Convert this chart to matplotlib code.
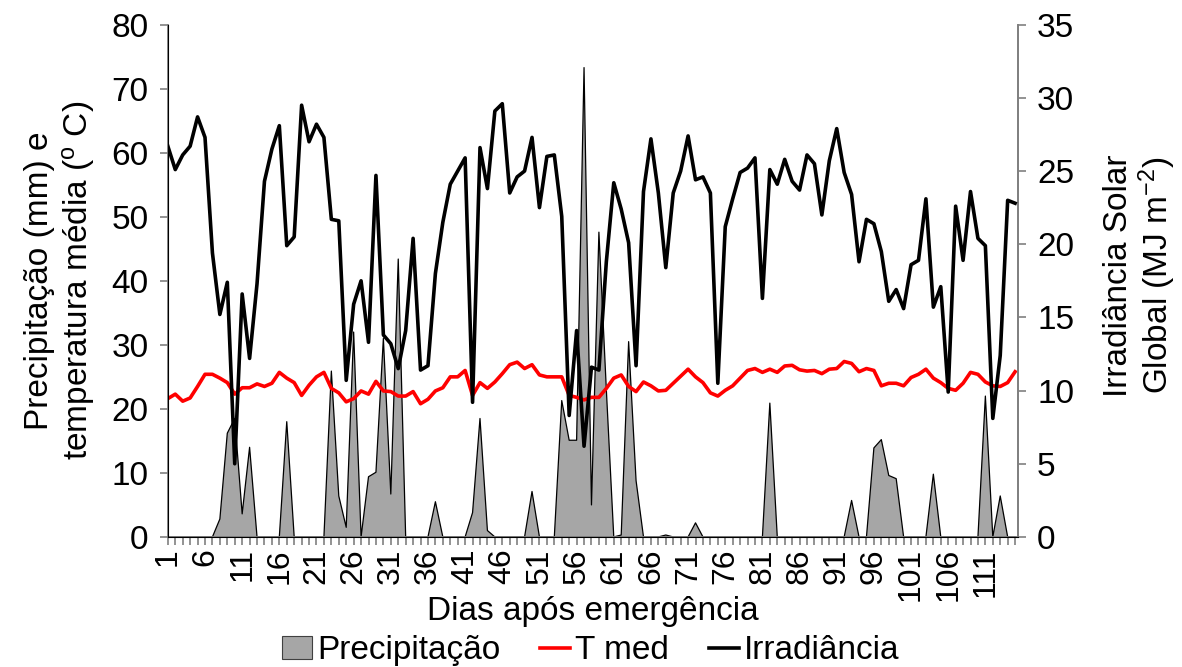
import matplotlib
matplotlib.use("Agg")
import matplotlib.pyplot as plt
import numpy as np
from matplotlib.patches import Patch
from matplotlib.lines import Line2D

plt.rcParams['font.family'] = ['Liberation Sans', 'DejaVu Sans']
plt.rcParams['mathtext.fontset'] = 'custom'
plt.rcParams['mathtext.rm'] = 'Liberation Sans'
plt.rcParams['mathtext.default'] = 'regular'

# Dias após emergência
dias = np.arange(1, 116)

# Precipitação (mm)
precipitacao = [0, 0, 0, 0, 0, 0, 0, 2.8, 16.2, 18.5,
                3.6, 14.0, 0, 0, 0, 0, 18.0, 0, 0, 0,
                0, 0, 25.9, 6.4, 1.5, 32.0, 0, 9.4, 10.1, 31.0,
                6.7, 43.4, 0, 0, 0, 0, 5.5, 0, 0, 0,
                0, 3.8, 18.5, 1.0, 0, 0, 0, 0, 0, 7.1,
                0, 0, 0, 21.3, 15.1, 15.1, 73.3, 5.0, 47.6, 23.0,
                0, 0.3, 30.5, 8.8, 0, 0, 0, 0.3, 0, 0,
                0, 2.2, 0, 0, 0, 0, 0, 0, 0, 0,
                0, 20.9, 0, 0, 0, 0, 0, 0, 0, 0,
                0, 0, 5.7, 0, 0, 13.9, 15.2, 9.6, 9.1, 0,
                0, 0, 0, 9.8, 0, 0, 0, 0, 0, 0,
                22.0, 0, 6.4, 0, 0]

# Temperatura média (ºC)
t_med = [21.6, 22.3, 21.2, 21.7, 23.5, 25.4, 25.4, 24.8, 24.1, 22.3,
         23.3, 23.3, 23.9, 23.5, 24.0, 25.7, 24.8, 24.1, 22.1, 23.7,
         25.0, 25.7, 23.2, 22.5, 21.1, 21.6, 22.8, 22.3, 24.3, 22.8,
         22.7, 22.0, 22.0, 22.7, 20.8, 21.5, 22.8, 23.3, 25.0, 25.0,
         26.0, 22.1, 24.1, 23.2, 24.2, 25.5, 26.9, 27.3, 26.3, 26.9,
         25.3, 25.0, 25.0, 25.0, 22.1, 21.8, 21.4, 21.8, 21.8, 23.2,
         24.8, 25.3, 23.5, 22.7, 24.2, 23.6, 22.8, 22.9, 24.0, 25.1,
         26.2, 25.0, 24.1, 22.5, 22.0, 22.9, 23.6, 24.8, 26.0, 26.3,
         25.7, 26.2, 25.7, 26.7, 26.8, 26.1, 25.9, 26.0, 25.5, 26.2,
         26.3, 27.4, 27.1, 25.8, 26.3, 26.0, 23.6, 24.0, 24.0, 23.6,
         24.9, 25.4, 26.2, 24.8, 24.1, 23.2, 22.9, 24.0, 25.7, 25.4,
         24.2, 23.6, 23.5, 24.1, 25.8]

# Irradiância solar global (MJ m-2)
irradiancia = [26.7, 25.1, 26.1, 26.7, 28.7, 27.3, 19.4, 15.2, 17.4, 5.0,
               16.6, 12.2, 17.3, 24.3, 26.5, 28.1, 19.9, 20.5, 29.5, 27.0,
               28.2, 27.3, 21.7, 21.6, 10.7, 15.9, 17.5, 13.3, 24.7, 13.8,
               13.2, 11.5, 14.1, 20.4, 11.4, 11.7, 18.0, 21.5, 24.1, 25.0,
               25.9, 9.2, 26.6, 23.8, 29.1, 29.6, 23.5, 24.6, 25.0, 27.3,
               22.5, 26.0, 26.1, 21.9, 8.3, 14.1, 6.2, 11.6, 11.4, 18.8,
               24.2, 22.4, 20.1, 11.7, 23.6, 27.2, 23.5, 18.4, 23.5, 25.0,
               27.4, 24.4, 24.6, 23.5, 10.5, 21.2, 23.1, 24.9, 25.2, 25.9,
               16.3, 25.1, 24.1, 25.8, 24.3, 23.7, 26.1, 25.5, 22.0, 25.7,
               27.9, 24.9, 23.4, 18.8, 21.7, 21.4, 19.5, 16.1, 16.9, 15.6,
               18.6, 18.9, 23.1, 15.7, 17.1, 9.9, 22.6, 18.9, 23.6, 20.4,
               19.9, 8.1, 12.4, 23.0, 22.8]

cinza = '#a6a6a6'
eixo = '#808080'
fs = 24

fig = plt.figure(figsize=(11.82, 6.67), dpi=100)
ax = fig.add_axes([0.142, 0.195, 0.719, 0.768])

# Precipitação como área
ax.fill_between(dias, 0, precipitacao, facecolor=cinza, linewidth=0, zorder=1)
ax.plot(dias, precipitacao, color='black', lw=0.9, zorder=2)
# Temperatura média
ax.plot(dias, t_med, color='#ff0000', lw=2.6, zorder=3)

ax.set_xlim(1, 115.35)
ax.set_ylim(0, 80)
ax.set_yticks(np.arange(0, 81, 10))
ax.set_xticks(dias[::5])
ax.set_xticklabels([str(d) for d in dias[::5]], rotation=90, fontsize=23)
ax.set_xticks(dias, minor=True)
ax.tick_params(axis='x', which='both', direction='out', length=6, width=1.2,
               color=eixo, pad=2)
ax.tick_params(axis='y', direction='out', length=6, width=1.2, color=eixo,
               labelsize=fs, pad=8)

ax.spines['top'].set_visible(False)
for s in ['left', 'bottom', 'right']:
    ax.spines[s].set_color(eixo)
    ax.spines[s].set_linewidth(1.3)

ax.set_ylabel('Precipitação (mm) e\ntemperatura média ($^{o}$ C)', fontsize=fs,
              linespacing=1.2)
ax.yaxis.set_label_coords(-0.083, 0.5)
ax.set_xlabel('Dias após emergência', fontsize=fs)
ax.xaxis.set_label_coords(0.5, -0.115)

# Irradiância no eixo secundário
ax2 = ax.twinx()
ax2.plot(dias, irradiancia, color='black', lw=2.6, zorder=4)
ax2.set_ylim(0, 35)
ax2.set_yticks(np.arange(0, 36, 5))
ax2.tick_params(axis='y', direction='out', length=6, width=1.2, color=eixo,
                labelsize=fs, pad=8)
ax2.spines['top'].set_visible(False)
ax2.spines['right'].set_color(eixo)
ax2.spines['right'].set_linewidth(1.3)
ax2.set_ylabel('Irradiância Solar\nGlobal (MJ m$^{-2}$)', fontsize=fs,
               linespacing=1.1)
ax2.yaxis.set_label_coords(1.1, 0.51)

handles = [Patch(facecolor=cinza, edgecolor='#404040', linewidth=0.8),
           Line2D([0], [0], color='#ff0000', lw=2.6),
           Line2D([0], [0], color='black', lw=2.6)]
fig.legend(handles, ['Precipitação', 'T med', 'Irradiância'], loc='center',
           bbox_to_anchor=(0.5, 0.024), ncol=3, frameon=False, fontsize=fs,
           handlelength=0.9, handletextpad=0.15, columnspacing=1.2,
           borderaxespad=0)

fig.savefig('out.png', dpi=100)
